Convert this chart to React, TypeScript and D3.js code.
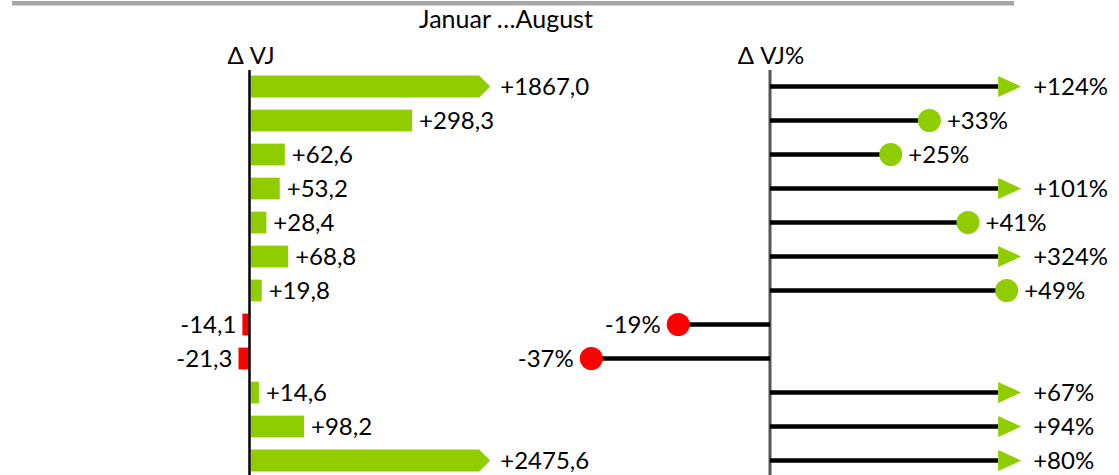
import React from "react";
import * as d3 from "d3";

const rows = ["r1", "r2", "r3", "r4", "r5", "r6", "r7", "r8", "r9", "r10", "r11", "r12"];
const deltaAbs = [1867.0, 298.3, 62.6, 53.2, 28.4, 68.8, 19.8, -14.1, -21.3, 14.6, 98.2, 2475.6];
const deltaPct = [124, 33, 25, 101, 41, 324, 49, -19, -37, 67, 94, 80];
const title = "Januar …August";
const headerAbs = "Δ VJ";
const headerPct = "Δ VJ%";

const W = 1119;
const H = 475;
const GREEN = "#8fcc00";
const RED = "#ff0000";
const FONT = "Lato, 'Open Sans', sans-serif";

const fmtAbs = (v: number) => (v > 0 ? "+" : "") + v.toFixed(1).replace(".", ",");
const fmtPct = (v: number) => (v > 0 ? "+" : "") + Math.round(v) + "%";

export default function App() {
  const y = d3.scaleBand<string>().domain(rows).range([69.5, 477.5]).paddingInner(0.36).paddingOuter(0.18);
  const bw = y.bandwidth();

  // left bar chart
  const absCap = 443;
  const xA = d3.scaleLinear().domain([0, 100]).range([251, 305]);
  const arrowA = 11;

  // right pin chart
  const pctCap = 52;
  const xP = d3.scaleLinear().domain([0, 10]).range([770, 818.3]);
  const arrowP = 23;
  const r = 11.5;

  return (
    <svg width={W} height={H} style={{ position: "absolute", left: 0, top: 0, background: "#fff" }} fontFamily={FONT}>
      <rect x={12} y={1} width={1002} height={4.5} fill="#a6a6a6" />
      <text x={506} y={28} textAnchor="middle" fontSize={25} fill="#000">{title}</text>
      <text x={251} y={64} textAnchor="middle" fontSize={24} fill="#000">{headerAbs}</text>
      <text x={771} y={64} textAnchor="middle" fontSize={24} fill="#000">{headerPct}</text>

      {/* left bars */}
      {rows.map((k, i) => {
        const v = deltaAbs[i];
        const y0 = y(k)!;
        const cy = y0 + bw / 2;
        const x0 = xA(0);
        if (v >= 0) {
          const capped = v > absCap;
          const tip = xA(Math.min(v, absCap));
          if (capped) {
            const body = tip - arrowA;
            const pts = [[x0, y0], [body, y0], [tip, cy], [body, y0 + bw], [x0, y0 + bw]];
            return (
              <g key={k}>
                <polygon points={pts.map((p) => p.join(",")).join(" ")} fill={GREEN} />
                <text x={tip + 10} y={cy} dy="0.36em" fontSize={24} fill="#000">{fmtAbs(v)}</text>
              </g>
            );
          }
          return (
            <g key={k}>
              <rect x={x0} y={y0} width={tip - x0} height={bw} fill={GREEN} />
              <text x={tip + 7} y={cy} dy="0.36em" fontSize={24} fill="#000">{fmtAbs(v)}</text>
            </g>
          );
        }
        const xl = xA(v) - 1;
        return (
          <g key={k}>
            <rect x={xl} y={y0} width={x0 - 1 - xl} height={bw} fill={RED} />
            <text x={xl - 6} y={cy} dy="0.36em" textAnchor="end" fontSize={24} fill="#000">{fmtAbs(v)}</text>
          </g>
        );
      })}
      <line x1={249.5} x2={249.5} y1={70} y2={H} stroke="#000" strokeWidth={2.5} />

      {/* right pins */}
      <line x1={770} x2={770} y1={70} y2={H} stroke="#555" strokeWidth={3} />
      {rows.map((k, i) => {
        const v = deltaPct[i];
        const cy = y(k)! + bw / 2;
        const x0 = xP(0);
        if (v > pctCap) {
          const tip = xP(pctCap);
          const base = tip - arrowP;
          return (
            <g key={k}>
              <line x1={x0} x2={base} y1={cy} y2={cy} stroke="#000" strokeWidth={4.5} />
              <polygon points={`${base},${cy - 10.5} ${tip},${cy} ${base},${cy + 10.5}`} fill={GREEN} />
              <text x={tip + 12} y={cy} dy="0.36em" fontSize={24} fill="#000">{fmtPct(v)}</text>
            </g>
          );
        }
        const cx = xP(v);
        const pos = v >= 0;
        return (
          <g key={k}>
            <line x1={x0} x2={cx} y1={cy} y2={cy} stroke="#000" strokeWidth={4.5} />
            <circle cx={cx} cy={cy} r={r} fill={pos ? GREEN : RED} />
            <text x={pos ? cx + r + 6 : cx - r - 6} y={cy} dy="0.36em" textAnchor={pos ? "start" : "end"} fontSize={24} fill="#000">{fmtPct(v)}</text>
          </g>
        );
      })}
    </svg>
  );
}
